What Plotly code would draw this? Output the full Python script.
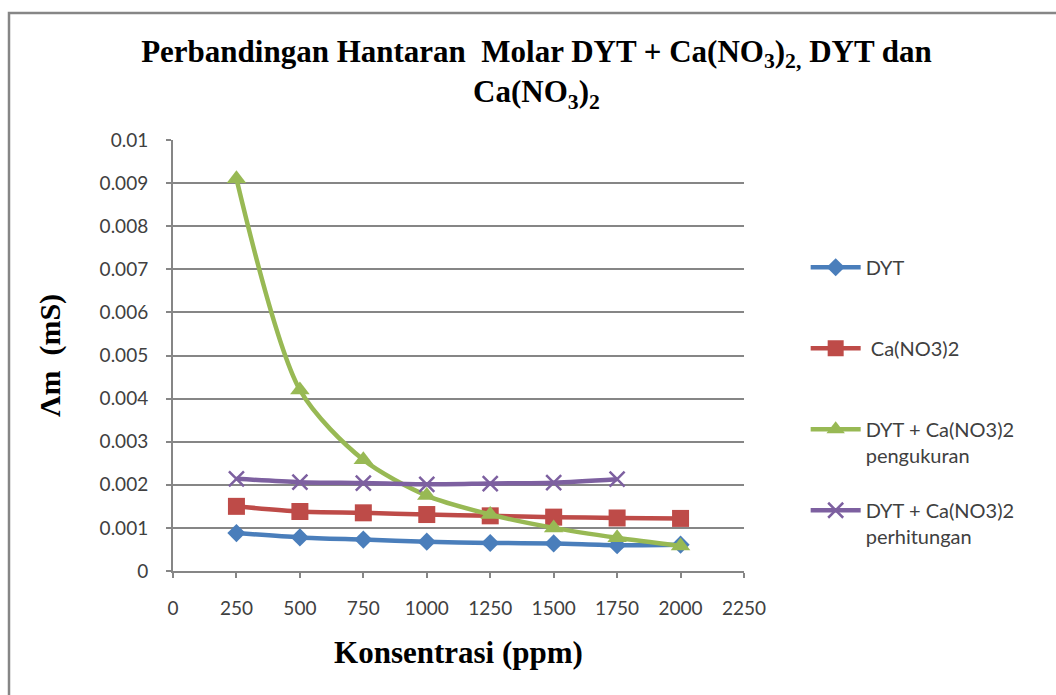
import plotly.graph_objects as go

konsentrasi = [250, 500, 750, 1000, 1250, 1500, 1750, 2000]
dyt = [0.00088, 0.00078, 0.00073, 0.00068, 0.00065, 0.00064, 0.00060, 0.00061]
ca_no3 = [0.00150, 0.00138, 0.00135, 0.00131, 0.00128, 0.00125, 0.00123, 0.00122]
campuran_ukur = [0.0091, 0.0042, 0.00258, 0.00175, 0.00131, 0.00100, 0.00077, 0.00058]
konsentrasi_hitung = [250, 500, 750, 1000, 1250, 1500, 1750]
campuran_hitung = [0.00214, 0.00206, 0.00204, 0.00201, 0.00203, 0.00205, 0.00213]

names = ["DYT<br> ", " Ca(NO3)2<br> ", "DYT + Ca(NO3)2<br>pengukuran", "DYT + Ca(NO3)2<br>perhitungan"]
colors = ["#4A7EBB", "#BE4B48", "#98B954", "#7D60A0"]
symbols = ["diamond", "square", "triangle-up", "x-thin"]
sizes = [14, 17, 17, 15]

series = [
    (konsentrasi, dyt),
    (konsentrasi, ca_no3),
    (konsentrasi, campuran_ukur),
    (konsentrasi_hitung, campuran_hitung),
]

fig = go.Figure()
for i, (xs, ys) in enumerate(series):
    marker = dict(symbol=symbols[i], size=sizes[i], color=colors[i])
    if symbols[i] == "x-thin":
        marker["line"] = dict(color=colors[i], width=2.5)
    fig.add_trace(go.Scatter(
        x=xs, y=ys, name=names[i], mode="lines+markers",
        line=dict(color=colors[i], width=4.5, shape="spline", smoothing=0.8),
        marker=marker, legendgroup=f"g{i}",
    ))

grid = "#868686"
tickfont = dict(family="Lato, Open Sans, sans-serif", size=19, color="#404040")

fig.update_layout(
    width=1056, height=695,
    margin=dict(l=173, r=312, t=140, b=124),
    paper_bgcolor="white", plot_bgcolor="white",
    title=dict(
        text="Perbandingan Hantaran  Molar DYT + Ca(NO<sub>3</sub>)<sub>2,</sub> DYT dan<br>Ca(NO<sub>3</sub>)<sub>2</sub>",
        font=dict(family="Liberation Serif, serif", size=31, color="black", weight="bold"),
        x=0.508, xanchor="center", y=0.911, yanchor="middle",
    ),
    xaxis=dict(
        range=[0, 2250], tickvals=[0, 250, 500, 750, 1000, 1250, 1500, 1750, 2000, 2250],
        showgrid=False, showline=True, linecolor=grid, linewidth=2,
        ticks="outside", ticklen=5, tickcolor=grid, tickwidth=2,
        tickfont=tickfont, ticklabelstandoff=14, zeroline=False,
        title=dict(text="Konsentrasi (ppm)", standoff=24,
                   font=dict(family="Liberation Serif, serif", size=31, color="black", weight="bold")),
    ),
    yaxis=dict(
        range=[0, 0.01], dtick=0.001, tickformat="~g",
        showgrid=True, gridcolor=grid, gridwidth=2,
        showline=True, linecolor=grid, linewidth=2,
        ticks="outside", ticklen=5, tickcolor=grid, tickwidth=2,
        tickfont=tickfont, ticklabelstandoff=14, zeroline=False,
        title=dict(text="Λm  (mS)", standoff=30,
                   font=dict(family="Liberation Serif, serif", size=30, color="black", weight="bold")),
    ),
    legend=dict(
        x=1.108, xanchor="left", y=0.75, yanchor="top",
        font=dict(family="Lato, Open Sans, sans-serif", size=20, color="#404040"),
        tracegroupgap=26, valign="top", itemwidth=50,
        bgcolor="rgba(0,0,0,0)",
    ),
    showlegend=True,
    shapes=[dict(type="rect", xref="paper", yref="paper",
                 x0=(9 - 173) / 571, x1=1.9, y0=-0.6, y1=(571 - 13) / 431,
                 line=dict(color=grid, width=2.5), layer="below")],
)

fig.write_html("out.html")
